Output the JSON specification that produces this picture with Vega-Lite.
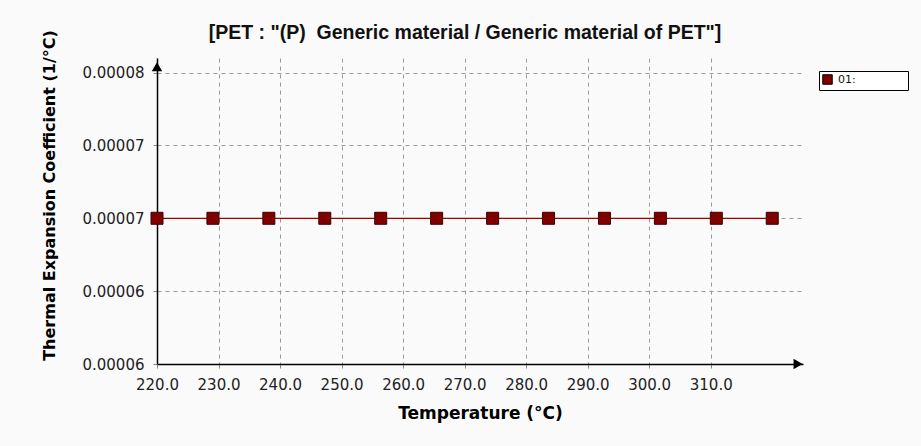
{
  "$schema": "https://vega.github.io/schema/vega-lite/v6.json",
  "width": 646,
  "height": 306,
  "autosize": {"type": "none"},
  "padding": {"left": 157, "top": 58, "right": 118, "bottom": 82},
  "background": "#fafafa",
  "title": {
    "text": "[PET : \"(P)\u00a0 Generic material / Generic material of PET\"]",
    "font": "Liberation Sans",
    "fontSize": 19.5,
    "fontWeight": "bold",
    "color": "#111111",
    "anchor": "middle",
    "dx": -15,
    "offset": 0,
    "dy": 14
  },
  "config": {"view": {"stroke": null}},
  "data": {
    "values": [
      {"temperature": 220.0, "value": 0.00007, "series": "01:"},
      {"temperature": 229.09, "value": 0.00007, "series": "01:"},
      {"temperature": 238.18, "value": 0.00007, "series": "01:"},
      {"temperature": 247.27, "value": 0.00007, "series": "01:"},
      {"temperature": 256.36, "value": 0.00007, "series": "01:"},
      {"temperature": 265.45, "value": 0.00007, "series": "01:"},
      {"temperature": 274.55, "value": 0.00007, "series": "01:"},
      {"temperature": 283.64, "value": 0.00007, "series": "01:"},
      {"temperature": 292.73, "value": 0.00007, "series": "01:"},
      {"temperature": 301.82, "value": 0.00007, "series": "01:"},
      {"temperature": 310.91, "value": 0.00007, "series": "01:"},
      {"temperature": 320.0, "value": 0.00007, "series": "01:"}
    ]
  },
  "layer": [
    {
      "mark": {"type": "line", "color": "#a00000", "strokeWidth": 1.2},
      "encoding": {
        "x": {
          "field": "temperature",
          "type": "quantitative",
          "scale": {"domain": [220, 325], "nice": false, "zero": false},
          "axis": {
            "values": [220, 230, 240, 250, 260, 270, 280, 290, 300, 310],
            "format": ".1f",
            "title": "Temperature (°C)",
            "titleFont": "DejaVu Sans",
            "titleFontSize": 17,
            "titleFontWeight": "bold",
            "titleColor": "#000000",
            "titlePadding": 13,
            "labelFont": "DejaVu Sans",
            "labelFontSize": 15,
            "labelColor": "#222222",
            "labelPadding": 9,
            "labelFlush": false,
            "tickSize": 4,
            "tickColor": "#888888",
            "domainColor": "#000000",
            "domainWidth": 1.5,
            "grid": true,
            "gridDash": [4, 4],
            "gridColor": "#999999"
          }
        },
        "y": {
          "field": "value",
          "type": "quantitative",
          "scale": {"domain": [0.00006, 0.000081], "nice": false, "zero": false},
          "axis": {
            "values": [0.00006, 0.000065, 0.00007, 0.000075, 0.00008],
            "labelExpr": "format(floor(datum.value * 100000 + 0.000001) / 100000, '.5f')",
            "title": "Thermal Expansion Coefficient (1/°C)",
            "titleFont": "DejaVu Sans",
            "titleFontSize": 16,
            "titleFontWeight": "bold",
            "titleColor": "#000000",
            "titlePadding": 24,
            "titleY": 137,
            "labelFont": "DejaVu Sans",
            "labelFontSize": 15,
            "labelColor": "#222222",
            "labelPadding": 9,
            "labelFlush": false,
            "tickSize": 4,
            "tickColor": "#888888",
            "domainColor": "#000000",
            "domainWidth": 1.5,
            "grid": true,
            "gridDash": [4, 4],
            "gridColor": "#999999"
          }
        }
      }
    },
    {
      "mark": {"type": "point", "shape": "square", "filled": true, "size": 144, "stroke": "#3a0000", "strokeWidth": 1, "opacity": 1},
      "encoding": {
        "x": {"field": "temperature", "type": "quantitative"},
        "y": {"field": "value", "type": "quantitative"},
        "color": {
          "field": "series",
          "type": "nominal",
          "scale": {"range": ["#800000"]},
          "legend": {
            "orient": "none",
            "legendX": 662,
            "legendY": 13,
            "title": null,
            "strokeColor": "#000000",
            "fillColor": "#ffffff",
            "padding": 3,
            "symbolType": "square",
            "symbolSize": 90,
            "symbolStrokeColor": "#000000",
            "symbolStrokeWidth": 1,
            "labelFont": "DejaVu Sans",
            "labelFontSize": 11,
            "labelColor": "#111111",
            "labelOffset": 5,
            "labelExpr": "datum.label + '\u2800\u2800\u2800\u2800\u2800\u2800'"
          }
        }
      }
    },
    {
      "data": {"values": [{"k": 1}]},
      "mark": {"type": "point", "shape": "triangle-up", "filled": true, "size": 110, "fill": "#000000", "stroke": "#000000", "strokeWidth": 0, "opacity": 1, "clip": false},
      "encoding": {
        "x": {"datum": 220, "type": "quantitative"},
        "y": {"datum": 0.0000804, "type": "quantitative"}
      }
    },
    {
      "data": {"values": [{"k": 1}]},
      "mark": {"type": "point", "shape": "triangle-right", "filled": true, "size": 110, "fill": "#000000", "stroke": "#000000", "strokeWidth": 0, "opacity": 1, "clip": false},
      "encoding": {
        "x": {"datum": 324.2, "type": "quantitative"},
        "y": {"datum": 0.00006, "type": "quantitative"}
      }
    }
  ]
}
